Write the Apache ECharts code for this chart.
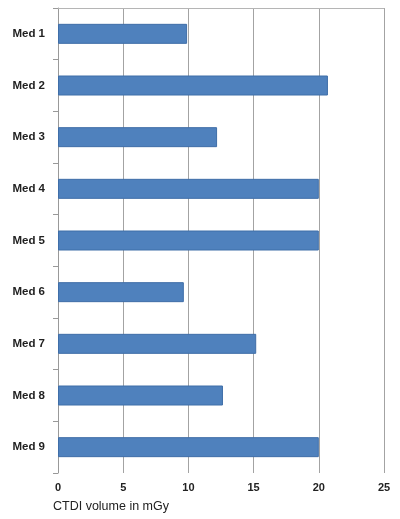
<!DOCTYPE html>
<html><head><meta charset="utf-8">
<script src="https://cdn.jsdelivr.net/npm/echarts@6/dist/echarts.min.js"></script>
<style>html,body{margin:0;padding:0;background:#fff}#c{width:400px;height:519px}</style>
</head><body><div id="c"></div>
<script>
var categories = ['Med 1','Med 2','Med 3','Med 4','Med 5','Med 6','Med 7','Med 8','Med 9'];
var values = [9.9, 20.7, 12.2, 20.0, 20.0, 9.65, 15.2, 12.65, 20.0];
var xTicks = [0, 5, 10, 15, 20, 25];
var axisTitle = 'CTDI volume in mGy';

var chart = echarts.init(document.getElementById('c'), null, {renderer:'canvas'});
chart.setOption({
  animation:false,
  grid:{left:58, top:8, right:16, bottom:46, containLabel:false},
  xAxis:[{
    type:'value', min:xTicks[0], max:xTicks[xTicks.length-1], interval:5,
    axisLine:{show:false}, axisTick:{show:false},
    splitLine:{show:true, lineStyle:{color:'#a3a3a3', width:1}},
    axisLabel:{margin:9, fontFamily:'Liberation Sans', fontWeight:'bold', fontSize:11, color:'#222'}
  },{
    type:'value', position:'top', min:xTicks[0], max:xTicks[xTicks.length-1],
    axisLine:{show:true, lineStyle:{color:'#b5b5b5', width:1}},
    axisTick:{show:false}, axisLabel:{show:false}, splitLine:{show:false}
  }],
  yAxis:{
    type:'category', data:categories, inverse:true,
    axisLine:{show:true, lineStyle:{color:'#999', width:1}},
    axisTick:{show:true, length:5, lineStyle:{color:'#999'}},
    axisLabel:{margin:13, fontFamily:'Liberation Sans', fontWeight:'bold', fontSize:11.5, color:'#222'}
  },
  series:[{
    type:'bar', data:values, barWidth:20, xAxisIndex:0,
    itemStyle:{color:'#4f81bd', borderColor:'#3f6ea8', borderWidth:1}
  }],
  graphic:[{
    type:'text', left:53, top:500,
    style:{text:axisTitle, font:'12.5px "Liberation Sans"', fill:'#222'}
  }]
});
</script></body></html>
